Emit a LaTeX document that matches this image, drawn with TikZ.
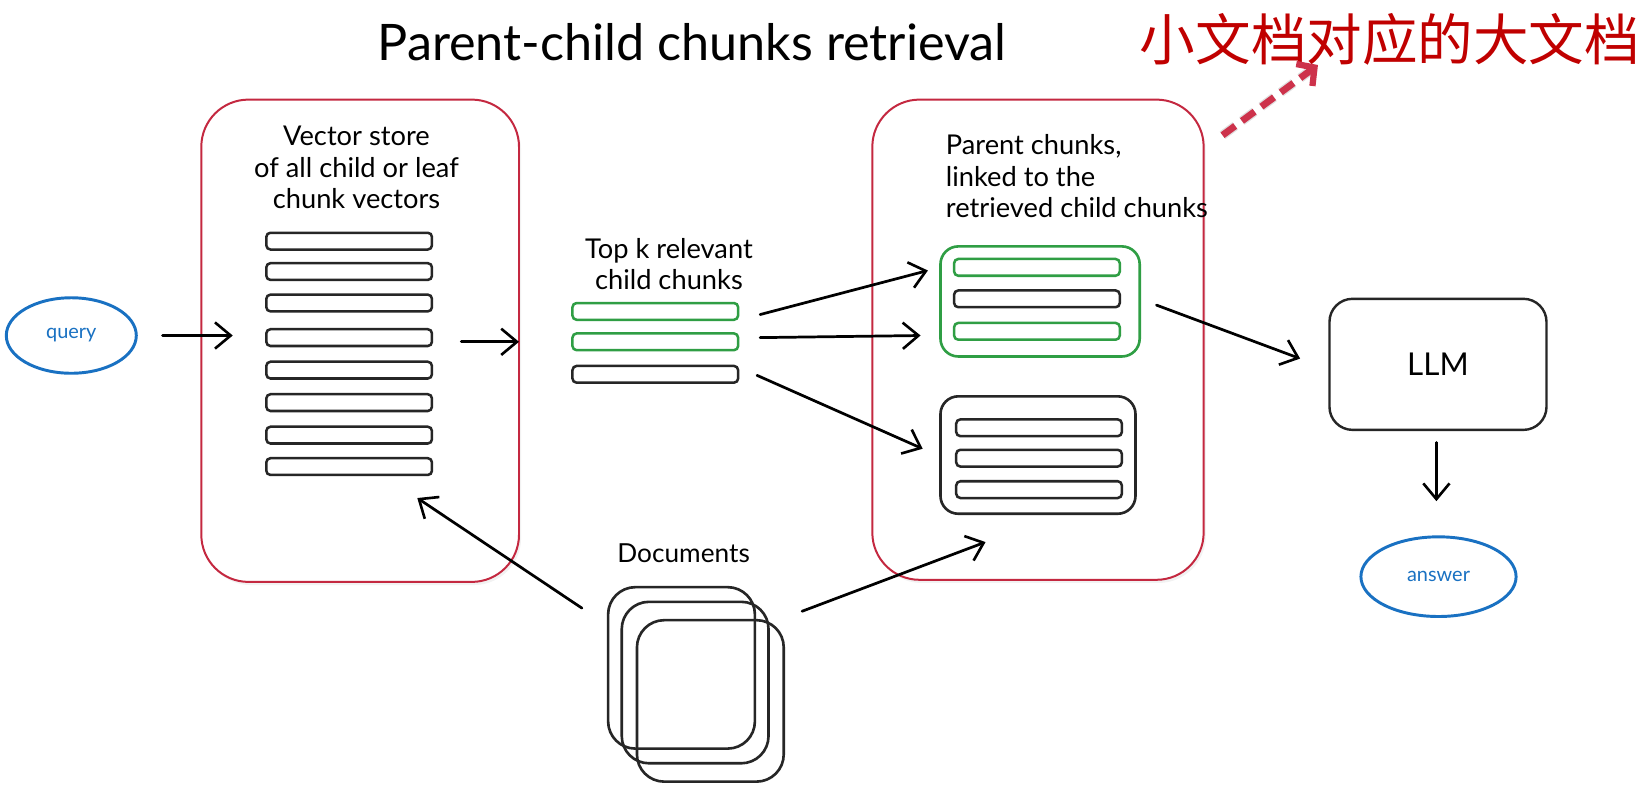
\documentclass[tikz,border=0pt]{standalone}
\usepackage{fontspec}
\setmainfont{Lato}
\newfontfamily\cjk{Noto Sans CJK SC}
\usetikzlibrary{arrows.meta,shadows,calc,shapes.geometric}
\definecolor{boxred}{RGB}{196,40,64}
\definecolor{exgreen}{RGB}{47,158,68}
\definecolor{exblue}{RGB}{25,113,194}
\definecolor{zhred}{RGB}{192,0,0}
\definecolor{dashred}{RGB}{205,50,75}
\begin{document}
\begin{tikzpicture}[x=1pt,y=-1pt,
  bar/.style={draw, rounded corners=4pt, minimum width=158pt, minimum height=16pt, inner sep=0pt, line width=2.4pt},
  gbar/.style={bar, draw=exgreen},
  kbar/.style={bar, draw=black!85},
  redbox/.style={draw=boxred, line width=1.9pt, rounded corners=45pt, fill=white, inner sep=0pt,
    drop shadow={opacity=0.10, shadow xshift=2pt, shadow yshift=-3pt}},
  parentbox/.style={draw, rounded corners=17pt, line width=2.5pt, inner sep=0pt},
  doc/.style={draw=black!85, rounded corners=26pt, line width=2.5pt, inner sep=0pt, minimum width=140pt, minimum height=154pt},
  oval/.style={draw=exblue, ellipse, line width=2.8pt, inner sep=0pt, text=exblue, font=\fontsize{19}{21}\selectfont},
  lbl/.style={font=\fontsize{26}{30}\selectfont, align=center, inner sep=0pt},
  arr/.style={line width=2.6pt, line cap=round, -{Straight Barb[length=15pt,width=25pt,line width=2.5pt]}},
]
\useasboundingbox (0,0) rectangle (1568,751.6);
\fill[white] (0,0) rectangle (1568,751.6);

% title
\node[inner sep=0pt, font=\fontsize{48}{52}\selectfont] (title) at (660,40) {Parent-child chunks retrieval};
\node[inner sep=0pt, anchor=west, text=zhred, font=\cjk\fontsize{53}{56}\selectfont] (zh) at (1087,38) {小文档对应的大文档};

% red containers
\node[redbox, minimum width=303pt, minimum height=460pt] (vs) at (343.5,325) {};
\node[redbox, minimum width=316pt, minimum height=458pt] (pc) at (990,324) {};

% vector store
\node[lbl] (vstext) at (340,160) {Vector store\\of all child or leaf\\chunk vectors};
\foreach \i/\y in {1/230,2/259,3/289,4/322,5/353,6/384,7/415,8/445}
  \node[kbar] (vb\i) at (333,\y) {};

% query
\node[oval, minimum width=124pt, minimum height=72pt] (query) at (68,320) {query};

% top k
\node[lbl] (tktext) at (638,252) {Top k relevant\\child chunks};
\node[gbar] (tk1) at (625,297) {};
\node[gbar] (tk2) at (625,326) {};
\node[kbar] (tk3) at (625,357) {};

% parent chunks
\node[lbl, align=left, anchor=west] (pctext) at (902,168) {Parent chunks,\\linked to the\\retrieved child chunks};
\node[parentbox, draw=exgreen, minimum width=190pt, minimum height=105pt] (gp) at (992,287.5) {};
\node[gbar] (gp1) at (989,255) {};
\node[kbar] (gp2) at (989,285) {};
\node[gbar] (gp3) at (989,316) {};
\node[parentbox, draw=black!85, minimum width=186pt, minimum height=112pt] (bp) at (990,434) {};
\node[kbar] (bp1) at (991,408) {};
\node[kbar] (bp2) at (991,437) {};
\node[kbar] (bp3) at (991,467) {};

% LLM and answer
\node[draw=black!85, rounded corners=22pt, line width=2.3pt, minimum width=207pt, minimum height=125pt,
  font=\fontsize{30}{32}\selectfont] (llm) at (1371.5,347.5) {LLM};
\node[oval, minimum width=148pt, minimum height=76pt] (answer) at (1372,550) {answer};

% documents
\node[lbl, font=\fontsize{25}{30}\selectfont] (doctext) at (652,528) {Documents};
\node[doc] (d1) at (650,637) {};
\node[doc] (d2) at (663,651) {};
\node[doc] (d3) at (677.5,668.5) {};

% arrow end points
\coordinate (q1) at (155,320);
\coordinate (q2) at (222,320);
\coordinate (v1) at (440,326);
\coordinate (v2) at (495,326);
\coordinate (t1s) at (725,300);
\coordinate (t1e) at (885,258);
\coordinate (t2s) at (725,322);
\coordinate (t2e) at (878,320);
\coordinate (t3s) at (722,358);
\coordinate (t3e) at (880,428);
\coordinate (gls) at (1103,291);
\coordinate (gle) at (1240,342);
\coordinate (las) at (1370,422);
\coordinate (lae) at (1370,478);
\coordinate (dvs) at (555,580);
\coordinate (dve) at (398,475);
\coordinate (dps) at (765,583);
\coordinate (dpe) at (940,517);
\coordinate (zs) at (1166,129);
\coordinate (ze) at (1257,62);

\draw[arr] (q1) -- (q2);
\draw[arr] (v1) -- (v2);
\draw[arr] (t1s) -- (t1e);
\draw[arr] (t2s) -- (t2e);
\draw[arr] (t3s) -- (t3e);
\draw[arr] (gls) -- (gle);
\draw[arr] (las) -- (lae);
\draw[arr] (dvs) -- (dve);
\draw[arr] (dps) -- (dpe);

% dashed annotation arrow
\draw[black, opacity=0.12, line width=9pt, dash pattern=on 15pt off 8pt, shift={(4pt,-6pt)}] (zs) -- (ze);
\draw[dashred, line width=6.5pt, dash pattern=on 15pt off 8pt,
  -{Straight Barb[length=12pt,width=26pt,line width=6pt]}] (zs) -- (ze);
\end{tikzpicture}
\end{document}
